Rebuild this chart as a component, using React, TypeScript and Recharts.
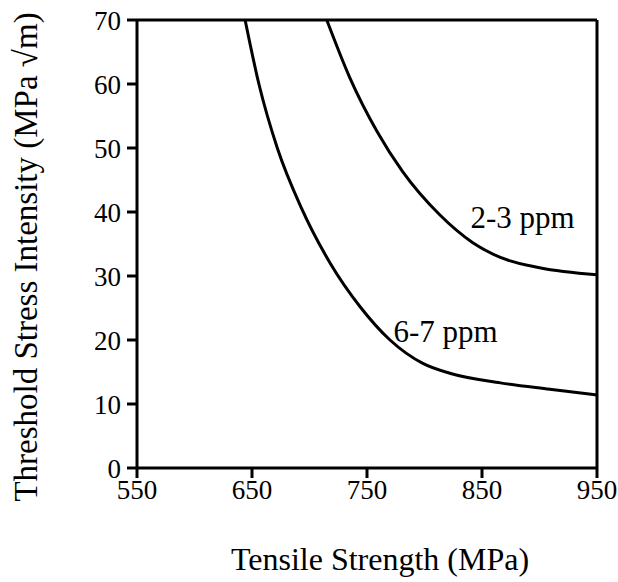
import React from 'react';
import { LineChart, Line, XAxis, YAxis, ReferenceLine, ReferenceDot, Label } from 'recharts';

// tensile strength (MPa) vs threshold stress intensity, by hydrogen content
const strength67 = [644, 656, 672, 693, 718, 744, 770, 799, 822, 866, 909, 950];
const threshold67 = [70, 60, 50, 40.6, 32, 25.2, 20, 16.3, 14.8, 13.3, 12.3, 11.4];

const strength23 = [715, 735, 759, 781, 813, 842, 866, 900, 950];
const threshold23 = [70, 61, 52.5, 46.3, 39.6, 35.2, 32.9, 31.3, 30.2];

const xTicks = [550, 650, 750, 850, 950];
const yTicks = [0, 10, 20, 30, 40, 50, 60, 70];

const seriesLabels = ['6-7 ppm', '2-3 ppm'];

const data67 = strength67.map((x, i) => ({ x, y: threshold67[i] }));
const data23 = strength23.map((x, i) => ({ x, y: threshold23[i] }));

const font = '"Liberation Serif", "Times New Roman", serif';

function TextLabel(props: any) {
  const { viewBox, value } = props;
  return (
    <text x={viewBox.x} y={viewBox.y} fontFamily={font} fontSize={31} fill="#000" textAnchor="start">
      {value}
    </text>
  );
}

function YTitle() {
  return (
    <text
      x={37}
      y={257}
      transform="rotate(-90, 37, 257)"
      textAnchor="middle"
      fontFamily={font}
      fontSize={33}
      fill="#000"
    >
      Threshold Stress Intensity (MPa √m)
    </text>
  );
}

function XTitle() {
  return (
    <text x={380} y={570} textAnchor="middle" fontFamily={font} fontSize={32} fill="#000">
      Tensile Strength (MPa)
    </text>
  );
}

export default function App() {
  return (
    <div style={{ position: 'absolute', left: 0, top: 0, width: 618, height: 582, background: '#fff' }}>
      <LineChart width={618} height={582} margin={{ top: 20, right: 21, left: 0, bottom: 0 }}>
        <XAxis
          type="number"
          dataKey="x"
          domain={[550, 950]}
          ticks={xTicks}
          allowDataOverflow
          stroke="#000"
          strokeWidth={3}
          tickSize={10}
          tickMargin={2}
          height={114}
          tick={{ fill: '#000', fontSize: 27, fontFamily: font }}
        >
          <Label content={<XTitle />} />
        </XAxis>
        <YAxis
          type="number"
          domain={[0, 70]}
          ticks={yTicks}
          allowDataOverflow
          stroke="#000"
          strokeWidth={3}
          tickSize={10}
          tickMargin={6}
          width={137}
          tick={{ fill: '#000', fontSize: 27, fontFamily: font }}
        >
          <Label content={<YTitle />} />
        </YAxis>
        <ReferenceLine y={70} stroke="#000" strokeWidth={3} />
        <ReferenceLine x={950} stroke="#000" strokeWidth={3} />
        <Line
          data={data67}
          dataKey="y"
          type="monotone"
          stroke="#000"
          strokeWidth={3}
          dot={false}
          isAnimationActive={false}
        />
        <Line
          data={data23}
          dataKey="y"
          type="monotone"
          stroke="#000"
          strokeWidth={3}
          dot={false}
          isAnimationActive={false}
        />
        <ReferenceDot x={773} y={19.7} r={0} label={<TextLabel value={seriesLabels[0]} />} />
        <ReferenceDot x={840} y={37.5} r={0} label={<TextLabel value={seriesLabels[1]} />} />
      </LineChart>
    </div>
  );
}
